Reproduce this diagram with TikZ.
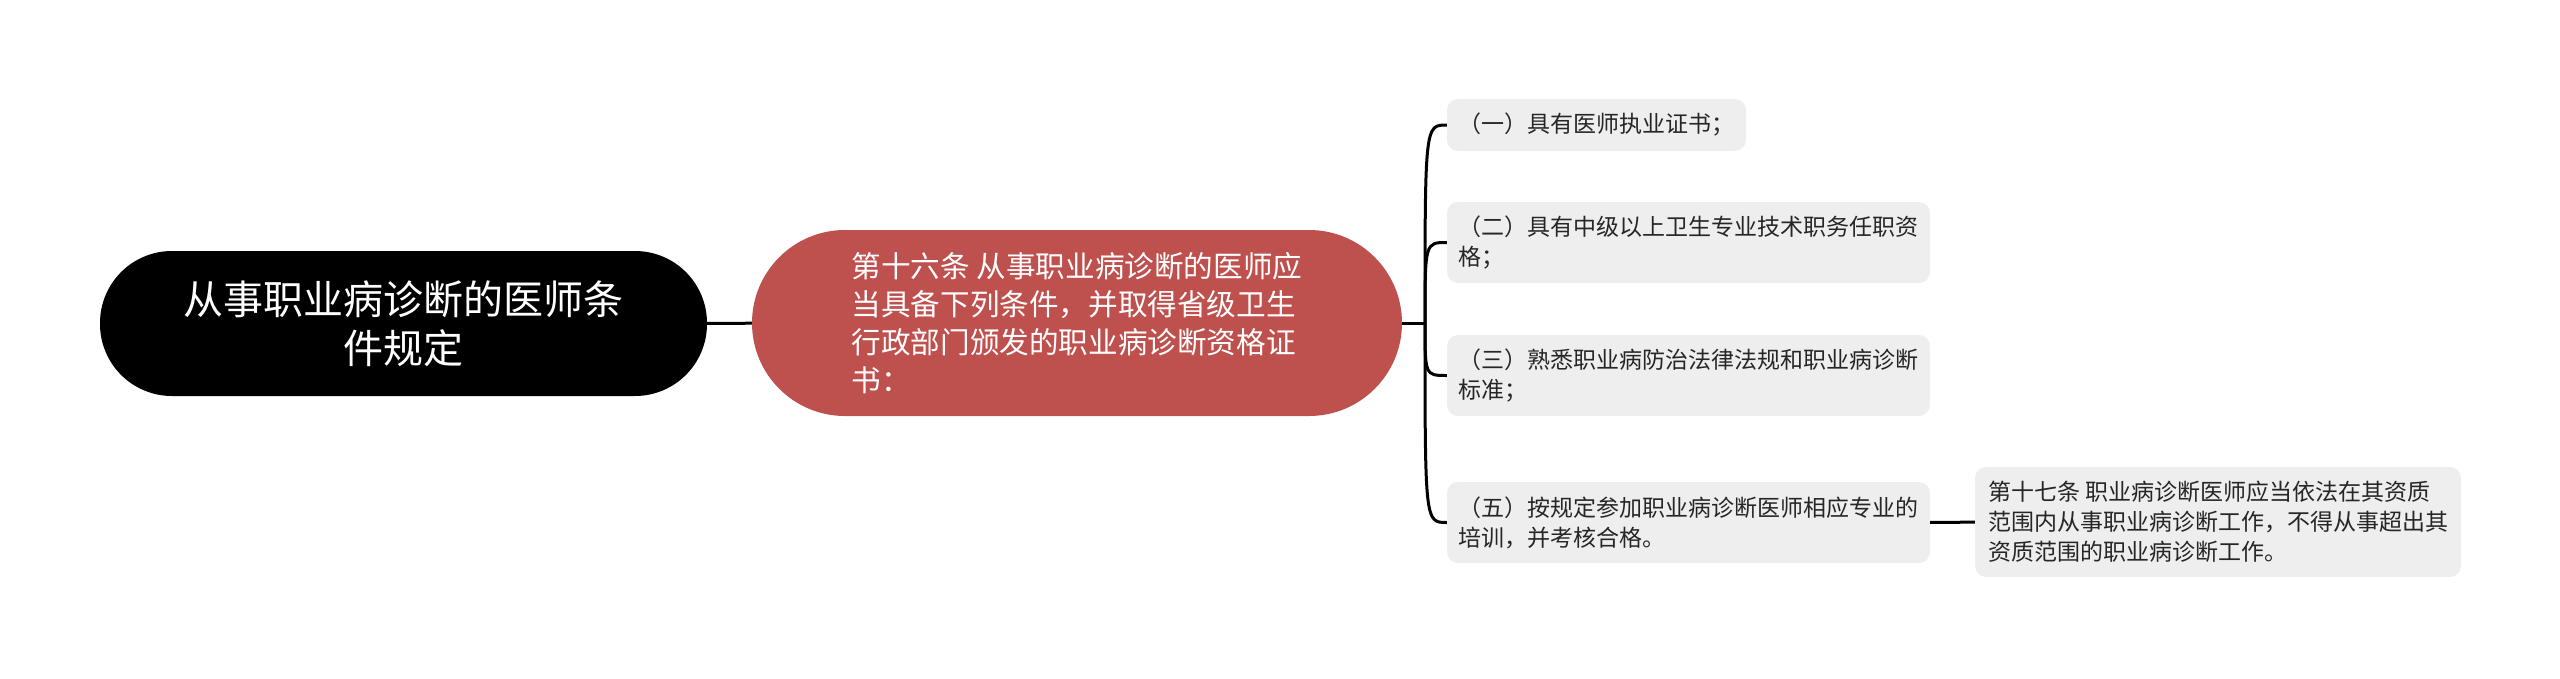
\documentclass[tikz,border=0pt]{standalone}
\usepackage{fontspec}
\setmainfont{Noto Sans CJK SC}
\definecolor{mainred}{HTML}{BE504E}
\definecolor{boxgray}{HTML}{EEEEEE}

\begin{document}
\begin{tikzpicture}[x=1pt, y=-1pt,
  rootbox/.style={fill=black, text=white, rounded corners=72pt, minimum width=607pt, minimum height=145pt, align=center, font=\fontsize{40}{49}\selectfont},
  mainbox/.style={fill=mainred, text=white, rounded corners=93pt, minimum width=650pt, minimum height=186pt, align=left, font=\fontsize{29.6}{38}\selectfont},
  itembox/.style={fill=boxgray, text=black!85, rounded corners=11pt, inner sep=0pt, minimum width=#1, align=left, font=\fontsize{23}{30}\selectfont},
  link/.style={line width=3pt}]

\useasboundingbox (0, 0) rectangle (2560, 678);

\node [rootbox] (root) at (403.5, 323.5) {从事职业病诊断的医师条\\件规定};
\node [mainbox] (main) at (1077, 323) {第十六条 从事职业病诊断的医师应\\当具备下列条件，并取得省级卫生\\行政部门颁发的职业病诊断资格证\\书：};

\node [itembox=299pt, minimum height=52pt] (c1) at (1596.5, 125) {（一）具有医师执业证书；};
\node [itembox=483pt, minimum height=81pt] (c2) at (1688.5, 242.5) {（二）具有中级以上卫生专业技术职务任职资\\格；};
\node [itembox=483pt, minimum height=81pt] (c3) at (1688.5, 375.5) {（三）熟悉职业病防治法律法规和职业病诊断\\标准；};
\node [itembox=483pt, minimum height=81pt] (c4) at (1688.5, 522.5) {（五）按规定参加职业病诊断医师相应专业的\\培训，并考核合格。};
\node [itembox=486pt, minimum height=110pt] (leaf) at (2218, 522) {第十七条 职业病诊断医师应当依法在其资质\\范围内从事职业病诊断工作，不得从事超出其\\资质范围的职业病诊断工作。};

\coordinate (fork) at (1425, 323);

\draw [link] (root) -- (main);
\draw [link] (main) -- (fork);
\draw [link] (fork) .. controls (fork |- c1) and (fork |- c1) .. (c1.west);
\draw [link] (fork) .. controls (fork |- c2) and (fork |- c2) .. (c2.west);
\draw [link] (fork) .. controls (fork |- c3) and (fork |- c3) .. (c3.west);
\draw [link] (fork) .. controls (fork |- c4) and (fork |- c4) .. (c4.west);
\draw [link] (c4) -- (leaf);

\end{tikzpicture}
\end{document}
